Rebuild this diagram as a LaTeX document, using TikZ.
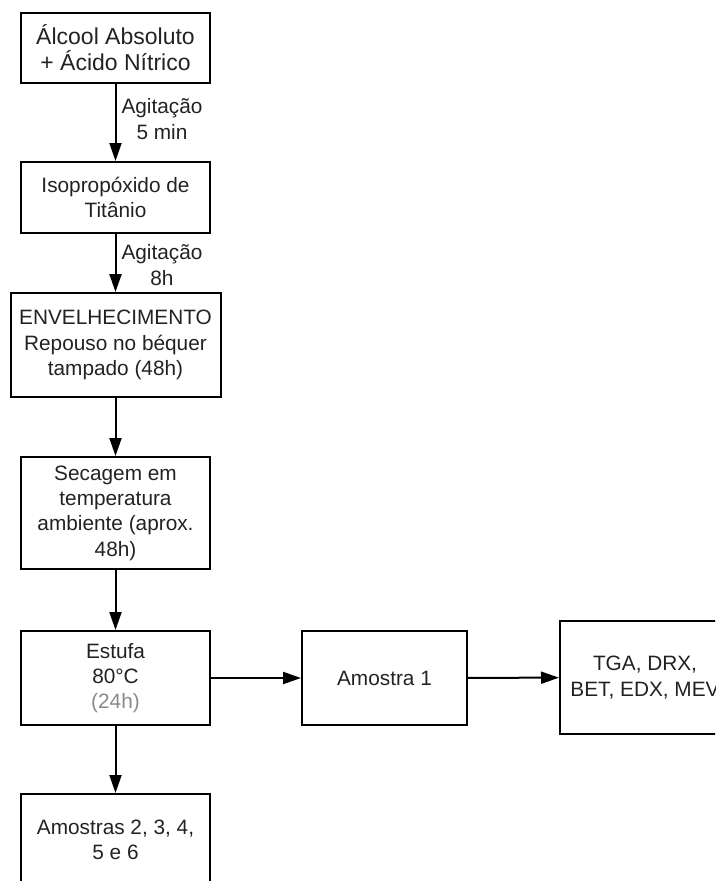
\documentclass[tikz,border=0pt]{standalone}
\usepackage{fontspec}
\setmainfont{Liberation Sans}
\usetikzlibrary{arrows.meta}
\definecolor{txt}{HTML}{222222}
\definecolor{soft}{HTML}{8A8A8A}
\tikzset{
  stepbox/.style={draw=black, line width=2pt, rectangle, align=center, inner sep=0pt,
    text=txt, font=\fontsize{20.8}{25.3}\selectfont},
  flow/.style={draw=black, line width=2pt, -{Triangle[length=18pt,width=12pt]}},
  lbl/.style={align=center, text=txt, font=\fontsize{20.8}{25.3}\selectfont, inner sep=0pt}
}
\begin{document}
\begin{tikzpicture}[x=1pt, y=-1pt]
  \useasboundingbox (0,0) rectangle (715,881);
  \clip (0,0) rectangle (715,881);

  % process steps
  \node[stepbox, minimum width=189pt, minimum height=70pt,
        font=\fontsize{23}{26.7}\selectfont] (b1) at (115.5,47.5)
        {Álcool Absoluto\\+ Ácido Nítrico};
  \node[stepbox, minimum width=189pt, minimum height=71pt] (b2) at (115.5,197.5)
        {Isopropóxido de\\Titânio};
  \node[stepbox, minimum width=210pt, minimum height=104pt] (b3) at (115.5,345)
        {ENVELHECIMENTO\\Repouso no béquer\\tampado (48h)};
  \node[stepbox, minimum width=189pt, minimum height=112pt] (b4) at (115.5,513)
        {Secagem em\\temperatura\\ambiente (aprox.\\48h)};
  \node[stepbox, minimum width=189pt, minimum height=94pt] (b5) at (115.5,678)
        {Estufa\\80°C\\\textcolor{soft}{(24h)}};
  \node[stepbox, minimum width=165pt, minimum height=94pt] (b6) at (384.5,678)
        {Amostra 1};
  \node[stepbox, minimum width=170pt, minimum height=113pt] (b7) at (645,677.5)
        {TGA, DRX,\\BET, EDX, MEV};
  \node[stepbox, minimum width=189pt, minimum height=92pt] (b8) at (115.5,840)
        {Amostras 2, 3, 4,\\5 e 6};

  % connectors
  \draw[flow] (b1) -- (b2);
  \draw[flow] (b2) -- (b3);
  \draw[flow] (b3) -- (b4);
  \draw[flow] (b4) -- (b5);
  \draw[flow] (b5) -- (b6);
  \draw[flow] (b6) -- (b7);
  \draw[flow] (b5) -- (b8);

  % connector labels
  \node[lbl] (l1) at (162,119) {Agitação\\5 min};
  \node[lbl] (l2) at (162,265) {Agitação\\8h};
\end{tikzpicture}
\end{document}
